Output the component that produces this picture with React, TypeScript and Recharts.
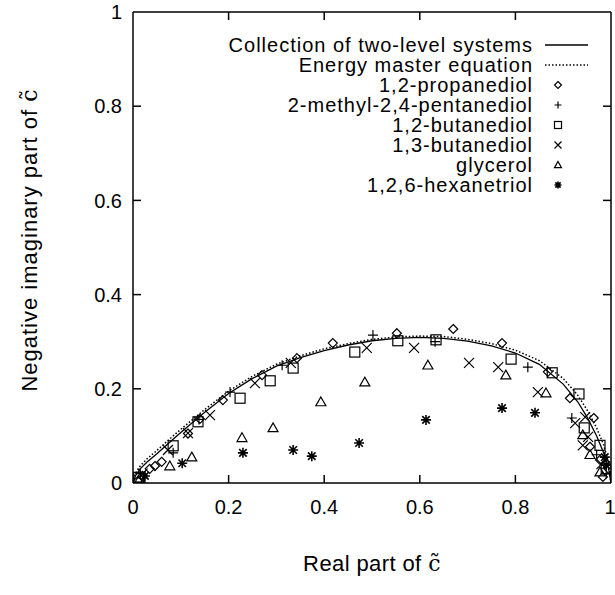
import React from 'react';
import { ScatterChart, Scatter, XAxis, YAxis, ReferenceLine, Label } from 'recharts';

const xTicks = [0, 0.2, 0.4, 0.6, 0.8, 1];
const yTicks = [0, 0.2, 0.4, 0.6, 0.8, 1];

// model curves
const curveX = [0, 0.005, 0.015, 0.03, 0.05, 0.075, 0.1, 0.15, 0.2, 0.25, 0.3, 0.35, 0.4, 0.45, 0.5, 0.55, 0.6, 0.65, 0.7, 0.75, 0.8, 0.85, 0.9, 0.93, 0.95, 0.97, 0.985, 0.995, 1];
const twoLevelY = [0, 0.015, 0.03, 0.045, 0.062, 0.085, 0.107, 0.15, 0.19, 0.222, 0.248, 0.266, 0.281, 0.293, 0.302, 0.307, 0.309, 0.307, 0.301, 0.291, 0.276, 0.252, 0.21, 0.173, 0.14, 0.1, 0.063, 0.03, 0];
const masterEqY = [0, 0.02, 0.036, 0.052, 0.069, 0.092, 0.114, 0.156, 0.195, 0.227, 0.252, 0.27, 0.285, 0.296, 0.305, 0.31, 0.312, 0.311, 0.305, 0.296, 0.282, 0.26, 0.222, 0.187, 0.155, 0.117, 0.08, 0.042, 0];

// measured points [real, -imag]
const propanediol = [[0.01, 0.004], [0.02, 0.015], [0.035, 0.03], [0.046, 0.036], [0.06, 0.045], [0.115, 0.105], [0.14, 0.136], [0.188, 0.176], [0.27, 0.229], [0.343, 0.265], [0.418, 0.297], [0.552, 0.318], [0.67, 0.327], [0.772, 0.297], [0.868, 0.236], [0.914, 0.18], [0.964, 0.138], [0.956, 0.077], [0.977, 0.049], [0.983, 0.013], [0.995, 0.03]];
const methylPentanediol = [[0.015, 0.02], [0.084, 0.064], [0.138, 0.135], [0.203, 0.193], [0.312, 0.25], [0.502, 0.314], [0.632, 0.3], [0.826, 0.246], [0.918, 0.138], [0.97, 0.06], [0.99, 0.02]];
const butanediol12 = [[0.012, 0.012], [0.084, 0.079], [0.136, 0.13], [0.224, 0.18], [0.287, 0.217], [0.335, 0.244], [0.464, 0.278], [0.554, 0.302], [0.634, 0.304], [0.791, 0.263], [0.877, 0.234], [0.933, 0.189], [0.944, 0.117], [0.977, 0.08], [0.99, 0.03]];
const butanediol13 = [[0.02, 0.02], [0.073, 0.07], [0.115, 0.106], [0.161, 0.144], [0.255, 0.212], [0.33, 0.255], [0.489, 0.287], [0.588, 0.287], [0.703, 0.255], [0.764, 0.246], [0.847, 0.193], [0.925, 0.127], [0.946, 0.14], [0.952, 0.098], [0.941, 0.08], [0.98, 0.04]];
const glycerol = [[0.015, 0.01], [0.077, 0.036], [0.123, 0.055], [0.228, 0.096], [0.293, 0.117], [0.393, 0.172], [0.485, 0.214], [0.617, 0.25], [0.78, 0.229], [0.864, 0.191], [0.941, 0.102], [0.956, 0.06], [0.977, 0.023]];
const hexanetriol = [[0.025, 0.015], [0.103, 0.042], [0.23, 0.064], [0.335, 0.07], [0.374, 0.057], [0.473, 0.085], [0.613, 0.134], [0.772, 0.159], [0.841, 0.149], [0.987, 0.055], [0.99, 0.038]];

const toPts = (a: number[][]) => a.map(([x, y]) => ({ x, y }));
const twoLevel = curveX.map((x, i) => ({ x, y: twoLevelY[i] }));
const masterEq = curveX.map((x, i) => ({ x, y: masterEqY[i] }));

type Kind = 'diamond' | 'plus' | 'square' | 'cross' | 'triangle' | 'star';

const marker = (kind: Kind, cx: number, cy: number, r: number) => {
  const s = { fill: 'none', stroke: '#000', strokeWidth: 1.2 };
  switch (kind) {
    case 'diamond':
      return <path d={`M${cx},${cy - r}L${cx + r},${cy}L${cx},${cy + r}L${cx - r},${cy}Z`} {...s} />;
    case 'plus':
      return <path d={`M${cx - r},${cy}H${cx + r}M${cx},${cy - r}V${cy + r}`} {...s} />;
    case 'square':
      return <rect x={cx - r} y={cy - r} width={2 * r} height={2 * r} {...s} />;
    case 'cross':
      return <path d={`M${cx - r},${cy - r}L${cx + r},${cy + r}M${cx - r},${cy + r}L${cx + r},${cy - r}`} {...s} />;
    case 'triangle':
      return <path d={`M${cx},${cy - r}L${cx + r},${cy + r * 0.75}L${cx - r},${cy + r * 0.75}Z`} {...s} />;
    default:
      return <path d={`M${cx - r},${cy}H${cx + r}M${cx},${cy - r}V${cy + r}M${cx - r * 0.75},${cy - r * 0.75}L${cx + r * 0.75},${cy + r * 0.75}M${cx - r * 0.75},${cy + r * 0.75}L${cx + r * 0.75},${cy - r * 0.75}`} {...s} strokeWidth={1.6} />;
  }
};

const shapeOf = (kind: Kind, r: number) => (p: any) => <g>{marker(kind, p.cx, p.cy, r)}</g>;
const noShape = () => <g />;

const series: { name: string; kind: Kind; data: number[][] }[] = [
  { name: '1,2-propanediol', kind: 'diamond', data: propanediol },
  { name: '2-methyl-2,4-pentanediol', kind: 'plus', data: methylPentanediol },
  { name: '1,2-butanediol', kind: 'square', data: butanediol12 },
  { name: '1,3-butanediol', kind: 'cross', data: butanediol13 },
  { name: 'glycerol', kind: 'triangle', data: glycerol },
  { name: '1,2,6-hexanetriol', kind: 'star', data: hexanetriol },
];

const font = '"Liberation Sans", Arial, sans-serif';
const serif = '"DejaVu Serif", "Liberation Serif", serif';
const tx = 8 / 478;
const ty = 8 / 471;

const XTitle = (props: any) => {
  const { x, y, width } = props.viewBox;
  return (
    <text x={x + width / 2} y={y + 88} textAnchor="middle" fontSize={22} letterSpacing={0.4} fontFamily={font} fill="#000">
      Real part of <tspan fontFamily={serif} fontSize={22}>c̃</tspan>
    </text>
  );
};

const YTitle = () => (
  <text x={0} y={0} transform="translate(37,240) rotate(-90)" textAnchor="middle" fontSize={22} letterSpacing={1} fontFamily={font} fill="#000">
    Negative imaginary part of <tspan fontFamily={serif} fontSize={22}>c̃</tspan>
  </text>
);

const legendRows = [
  { name: 'Collection of two-level systems', kind: 'solid' },
  { name: 'Energy master equation', kind: 'dotted' },
  ...series.map((s) => ({ name: s.name, kind: s.kind as string })),
];

export default function App() {
  return (
    <div style={{ position: 'absolute', left: 0, top: 0, width: 615, height: 595, background: '#fff', fontFamily: font }}>
      <ScatterChart width={615} height={595} margin={{ top: 12, right: 4, bottom: 0, left: 0 }}>
        <XAxis
          type="number"
          dataKey="x"
          domain={[0, 1]}
          ticks={xTicks}
          height={112}
          tickSize={0}
          tickMargin={17}
          tickLine={false}
          axisLine={{ stroke: '#000', strokeWidth: 1.5 }}
          tick={{ fill: '#000', fontSize: 20, fontFamily: font }}
          allowDataOverflow
        >
          <Label content={XTitle} />
        </XAxis>
        <YAxis
          type="number"
          dataKey="y"
          domain={[0, 1]}
          ticks={yTicks}
          width={133}
          tickSize={0}
          tickMargin={11}
          tickLine={false}
          axisLine={{ stroke: '#000', strokeWidth: 1.5 }}
          tick={{ fill: '#000', fontSize: 20, fontFamily: font }}
          allowDataOverflow
        >
          <Label content={YTitle} />
        </YAxis>
        <ReferenceLine x={1} stroke="#000" strokeWidth={1.5} />
        <ReferenceLine y={1} stroke="#000" strokeWidth={1.5} />
        {xTicks.slice(1, -1).map((t) => (
          <ReferenceLine key={'b' + t} segment={[{ x: t, y: 0 }, { x: t, y: ty }]} stroke="#000" strokeWidth={1.5} />
        ))}
        {xTicks.slice(1, -1).map((t) => (
          <ReferenceLine key={'t' + t} segment={[{ x: t, y: 1 }, { x: t, y: 1 - ty }]} stroke="#000" strokeWidth={1.5} />
        ))}
        {yTicks.slice(1, -1).map((t) => (
          <ReferenceLine key={'l' + t} segment={[{ x: 0, y: t }, { x: tx, y: t }]} stroke="#000" strokeWidth={1.5} />
        ))}
        {yTicks.slice(1, -1).map((t) => (
          <ReferenceLine key={'r' + t} segment={[{ x: 1, y: t }, { x: 1 - tx, y: t }]} stroke="#000" strokeWidth={1.5} />
        ))}
        <Scatter data={twoLevel} line={{ stroke: '#000', strokeWidth: 1.3 }} lineType="joint" shape={noShape} isAnimationActive={false} />
        <Scatter data={masterEq} line={{ stroke: '#000', strokeWidth: 1.5, strokeDasharray: '1.5 2' }} lineType="joint" shape={noShape} isAnimationActive={false} />
        {series.map((s) => (
          <Scatter key={s.name} data={toPts(s.data)} shape={shapeOf(s.kind, s.kind === 'diamond' ? 4.5 : 5)} isAnimationActive={false} />
        ))}
      </ScatterChart>
      {legendRows.map((row, i) => (
        <div key={row.name} style={{ position: 'absolute', top: 45 + i * 20 - 11, left: 0, width: 615, height: 22 }}>
          <div style={{ position: 'absolute', right: 82, top: 0, fontSize: 20, lineHeight: '22px', letterSpacing: 1, whiteSpace: 'nowrap', color: '#000' }}>
            {row.name}
          </div>
          <svg style={{ position: 'absolute', left: 540, top: 0 }} width={52} height={22}>
            {row.kind === 'solid' && <line x1={5} x2={48} y1={11} y2={11} stroke="#000" strokeWidth={1.3} />}
            {row.kind === 'dotted' && <line x1={5} x2={48} y1={11} y2={11} stroke="#000" strokeWidth={1.5} strokeDasharray="1.5 2" />}
            {row.kind !== 'solid' && row.kind !== 'dotted' && marker(row.kind as Kind, 18, 11, 3.5)}
          </svg>
        </div>
      ))}
    </div>
  );
}
